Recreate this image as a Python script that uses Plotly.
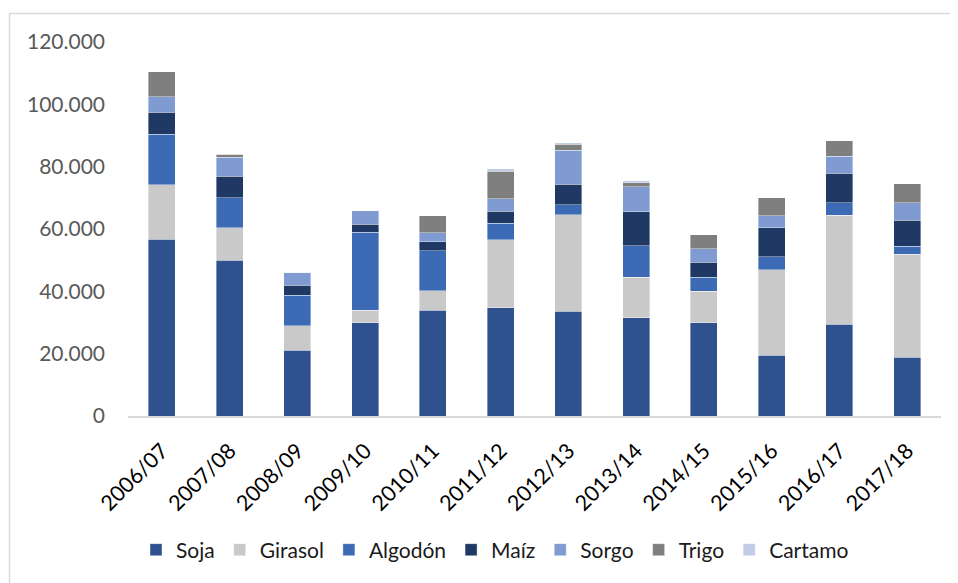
import plotly.graph_objects as go

campanas = ["2006/07", "2007/08", "2008/09", "2009/10", "2010/11", "2011/12",
            "2012/13", "2013/14", "2014/15", "2015/16", "2016/17", "2017/18"]

soja    = [56640, 49900, 21100, 29900, 34000, 34700, 33600, 31600, 30000, 19500, 29400, 18900]
girasol = [17500, 10460,  7800,  4060,  6200, 21900, 30940, 13000, 10000, 27500, 35000, 33060]
algodon = [16300,  9700,  9800, 24960, 12800,  5200,  3200, 10040,  4480,  4060,  4060,  2460]
maiz    = [ 6950,  6820,  3200,  2660,  2880,  3850,  6600, 10880,  4900,  9380,  9380,  8420]
sorgo   = [ 5000,  6080,  4260,  4280,  2980,  4050, 10900,  8100,  4280,  3740,  5560,  5660]
trigo   = [ 8000,  1080,     0,     0,  5340,  8850,  2020,  1280,  4480,  5860,  4900,  5980]
cartamo = [    0,     0,     0,     0,     0,   750,   440,   640,     0,     0,     0,     0]

series = [
    ("Soja", soja, "#2F528F"),
    ("Girasol", girasol, "#C9C9C9"),
    ("Algodón", algodon, "#3D6AB4"),
    ("Maíz", maiz, "#203864"),
    ("Sorgo", sorgo, "#809BD1"),
    ("Trigo", trigo, "#7F7F7F"),
    ("Cartamo", cartamo, "#C1CCE6"),
]

FONT = "Lato, Calibri, sans-serif"

fig = go.Figure()
for name, vals, color in series:
    fig.add_trace(go.Bar(
        x=campanas, y=vals, name=name,
        marker=dict(color=color, line=dict(width=0.7, color="rgba(255,255,255,0.55)")),
    ))

# the page body adds an 8px margin, so work in figure coords = screen - 8
OFF = 8
W, H = 958 - OFF, 583 - OFF
PL, PR, PT, PB = 128 - OFF, 941 - OFF, 42 - OFF, 416 - OFF
pw, ph = PR - PL, PB - PT


def px_x(x):
    return (x - OFF - PL) / pw


def px_y(y):
    return (PB - (y - OFF)) / ph


fig.update_layout(
    width=W, height=H,
    barmode="stack",
    bargap=0.6,
    separators=",.",
    plot_bgcolor="white",
    paper_bgcolor="white",
    font=dict(family=FONT, size=20, color="#595959"),
    margin=dict(l=PL, r=W - PR, t=PT, b=H - PB, autoexpand=False),
    xaxis=dict(
        showline=True, linecolor="#D9D9D9", linewidth=1.5,
        ticks="", tickangle=-45, ticklabelstandoff=12,
        tickfont=dict(family=FONT, size=21.5, color="#000000"),
        showgrid=False,
    ),
    yaxis=dict(
        range=[0, 120000], dtick=20000, tickformat=",d",
        showgrid=False, zeroline=False, showline=False,
        ticklabelstandoff=22,
        tickfont=dict(family=FONT, size=21, color="#595959"),
    ),
    legend=dict(
        orientation="h", x=px_x(495), xanchor="center",
        y=px_y(550), yanchor="middle",
        font=dict(family=FONT, size=21, color="#1a1a1a"),
        itemwidth=30, traceorder="normal",
    ),
    shapes=[
        dict(type="line", xref="paper", yref="paper",
             x0=px_x(9), x1=px_x(958), y0=px_y(13.5), y1=px_y(13.5),
             line=dict(color="#D9D9D9", width=1.5)),
        dict(type="line", xref="paper", yref="paper",
             x0=px_x(9.5), x1=px_x(9.5), y0=px_y(13.5), y1=px_y(583),
             line=dict(color="#D9D9D9", width=1.5)),
    ],
)

fig.write_html("out.html")
